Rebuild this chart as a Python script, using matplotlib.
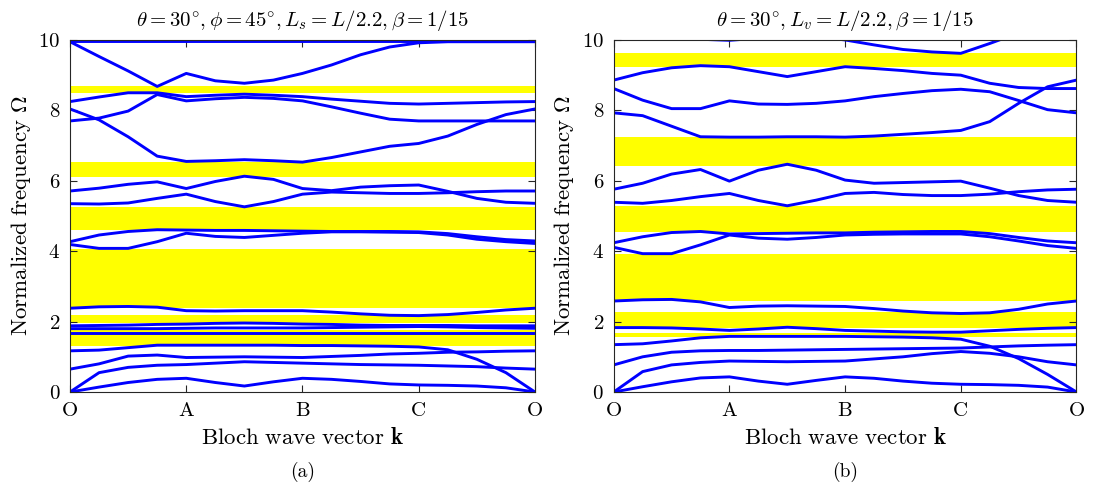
import matplotlib
matplotlib.use("Agg")
import matplotlib.pyplot as plt
import numpy as np

plt.rcParams['font.family'] = 'serif'
plt.rcParams['font.serif'] = ['cmr10', 'DejaVu Serif']
plt.rcParams['mathtext.fontset'] = 'cm'
plt.rcParams['axes.formatter.use_mathtext'] = True

# path positions along O-A-B-C-O
k = [0, 0.25, 0.5, 0.75, 1, 1.25, 1.5, 1.75, 2, 2.25, 2.5, 2.75, 3, 3.25, 3.5, 3.75, 4]
k_labels = ['O', 'A', 'B', 'C', 'O']

# (a) band gaps (lower, upper) and dispersion branches
gaps_a = [(9.97, 10.0), (8.50, 8.69), (6.11, 6.53), (4.60, 5.26),
          (2.40, 4.06), (1.95, 2.19), (1.31, 1.76)]
bands_a = [
    [9.96] * 17,
    [9.95, 9.53, 9.12, 8.68, 9.05, 8.84, 8.77, 8.86, 9.05, 9.29, 9.58, 9.80, 9.92, 9.95, 9.95, 9.95, 9.95],
    [8.25, 8.38, 8.50, 8.50, 8.39, 8.43, 8.46, 8.43, 8.39, 8.32, 8.26, 8.20, 8.18, 8.20, 8.22, 8.24, 8.25],
    [7.70, 7.78, 7.98, 8.45, 8.27, 8.33, 8.37, 8.34, 8.27, 8.10, 7.92, 7.75, 7.70, 7.70, 7.70, 7.70, 7.70],
    [8.04, 7.73, 7.25, 6.70, 6.55, 6.57, 6.60, 6.57, 6.53, 6.66, 6.82, 6.98, 7.06, 7.27, 7.60, 7.88, 8.04],
    [5.71, 5.79, 5.90, 5.97, 5.78, 5.98, 6.13, 6.04, 5.78, 5.72, 5.82, 5.86, 5.88, 5.70, 5.50, 5.39, 5.36],
    [5.35, 5.34, 5.37, 5.50, 5.62, 5.41, 5.26, 5.41, 5.62, 5.68, 5.66, 5.64, 5.64, 5.66, 5.69, 5.71, 5.71],
    [4.27, 4.46, 4.56, 4.61, 4.60, 4.59, 4.59, 4.58, 4.57, 4.56, 4.56, 4.56, 4.55, 4.50, 4.41, 4.33, 4.29],
    [4.19, 4.08, 4.08, 4.27, 4.51, 4.42, 4.39, 4.45, 4.51, 4.55, 4.55, 4.54, 4.53, 4.46, 4.34, 4.27, 4.22],
    [2.38, 2.42, 2.43, 2.41, 2.31, 2.30, 2.31, 2.31, 2.31, 2.27, 2.22, 2.18, 2.17, 2.20, 2.26, 2.33, 2.38],
    [1.88, 1.89, 1.90, 1.92, 1.93, 1.95, 1.96, 1.95, 1.93, 1.92, 1.90, 1.89, 1.89, 1.89, 1.88, 1.88, 1.88],
    [1.80, 1.80, 1.80, 1.80, 1.81, 1.82, 1.82, 1.82, 1.82, 1.83, 1.84, 1.85, 1.86, 1.85, 1.83, 1.82, 1.81],
    [1.68] * 17,
    [1.17, 1.19, 1.26, 1.33, 1.33, 1.33, 1.33, 1.33, 1.32, 1.32, 1.31, 1.30, 1.28, 1.20, 0.93, 0.55, 0.00],
    [0.65, 0.80, 1.02, 1.05, 0.98, 0.99, 1.00, 0.99, 0.98, 1.01, 1.04, 1.08, 1.10, 1.13, 1.14, 1.16, 1.17],
    [0.00, 0.55, 0.70, 0.76, 0.78, 0.82, 0.86, 0.84, 0.82, 0.80, 0.78, 0.77, 0.76, 0.74, 0.72, 0.68, 0.65],
    [0.00, 0.14, 0.27, 0.36, 0.39, 0.27, 0.17, 0.29, 0.39, 0.36, 0.30, 0.23, 0.20, 0.19, 0.17, 0.12, 0.00],
]

# (b) band gaps and dispersion branches
gaps_b = [(9.24, 9.64), (6.43, 7.24), (4.54, 5.28), (2.59, 3.92), (1.83, 2.26), (1.57, 1.69)]
bands_b = [
    [10.5, 10.3, 10.1, 10.02, 9.99, 10.05, 10.2, 10.1, 10.0, 9.86, 9.73, 9.66, 9.62, 9.90, 10.2, 10.4, 10.5],
    [8.86, 9.07, 9.21, 9.27, 9.24, 9.10, 8.96, 9.10, 9.24, 9.19, 9.13, 9.05, 9.00, 8.77, 8.65, 8.62, 8.62],
    [8.62, 8.29, 8.05, 8.05, 8.27, 8.18, 8.17, 8.20, 8.27, 8.39, 8.48, 8.56, 8.60, 8.53, 8.28, 8.02, 7.93],
    [7.93, 7.85, 7.55, 7.25, 7.24, 7.24, 7.25, 7.25, 7.24, 7.27, 7.32, 7.37, 7.43, 7.68, 8.20, 8.67, 8.86],
    [5.76, 5.93, 6.19, 6.32, 5.99, 6.30, 6.47, 6.30, 6.02, 5.93, 5.95, 5.97, 5.99, 5.79, 5.58, 5.44, 5.39],
    [5.39, 5.36, 5.44, 5.55, 5.64, 5.44, 5.29, 5.45, 5.64, 5.67, 5.61, 5.58, 5.58, 5.62, 5.69, 5.74, 5.76],
    [4.24, 4.41, 4.53, 4.56, 4.49, 4.50, 4.51, 4.52, 4.52, 4.54, 4.55, 4.56, 4.56, 4.50, 4.39, 4.29, 4.24],
    [4.11, 3.93, 3.93, 4.18, 4.46, 4.37, 4.34, 4.39, 4.46, 4.48, 4.49, 4.49, 4.49, 4.41, 4.29, 4.16, 4.08],
    [2.585, 2.62, 2.63, 2.56, 2.40, 2.44, 2.45, 2.44, 2.43, 2.37, 2.30, 2.25, 2.23, 2.25, 2.35, 2.50, 2.585],
    [1.83, 1.83, 1.82, 1.79, 1.75, 1.79, 1.84, 1.80, 1.75, 1.73, 1.71, 1.70, 1.70, 1.74, 1.78, 1.81, 1.83],
    [1.345, 1.37, 1.45, 1.54, 1.58, 1.58, 1.58, 1.58, 1.58, 1.57, 1.56, 1.54, 1.50, 1.30, 0.95, 0.50, 0.00],
    [0.77, 1.00, 1.13, 1.17, 1.18, 1.18, 1.19, 1.20, 1.21, 1.22, 1.23, 1.24, 1.25, 1.28, 1.31, 1.33, 1.345],
    [0.00, 0.58, 0.77, 0.84, 0.88, 0.87, 0.86, 0.87, 0.88, 0.94, 1.00, 1.09, 1.15, 1.10, 1.00, 0.86, 0.77],
    [0.00, 0.15, 0.29, 0.40, 0.43, 0.31, 0.22, 0.33, 0.43, 0.39, 0.31, 0.25, 0.22, 0.21, 0.19, 0.14, 0.00],
]

title_a = r'$\theta=30^{\circ},\phi=45^{\circ},L_s=L/2.2,\beta=1/15$'
title_b = r'$\theta=30^{\circ},L_v=L/2.2,\beta=1/15$'
ylab = r'$\mathrm{Normalized\ frequency}\ \Omega$'
xlab = r'$\mathrm{Bloch\ wave\ vector}\ \mathbf{k}$'


def draw_panel(ax, gaps, bands, title):
    for lo, hi in gaps:
        ax.fill_between([0, 4], lo, hi, color=(1, 1, 0), linewidth=0, zorder=1)
    for b in bands:
        ax.plot(k, b, color=(0, 0, 1), linewidth=2.1, zorder=2,
                solid_joinstyle='round')

    ax.set_xlim(0, 4)
    ax.set_ylim(0, 10)
    ax.set_xticks(range(5), labels=k_labels)
    ax.set_yticks([0, 2, 4, 6, 8, 10])
    ax.tick_params(direction='in', top=True, right=True, length=5,
                   width=0.8, color='0.15', labelsize=15, pad=7)
    for s in ax.spines.values():
        s.set_color('0.15')
        s.set_linewidth(0.8)
    ax.set_title(title, fontsize=15, pad=10)
    ax.set_xlabel(xlab, fontsize=16.5, labelpad=5)
    ax.set_ylabel(ylab, fontsize=16.5, labelpad=4)


fig = plt.figure(figsize=(10.94, 4.91), dpi=100)
ax1 = fig.add_axes([0.064, 0.2016, 0.425, 0.717])
ax2 = fig.add_axes([0.561, 0.2016, 0.423, 0.717])

draw_panel(ax1, gaps_a, bands_a, title_a)
draw_panel(ax2, gaps_b, bands_b, title_b)

fig.text(0.2765, 0.038, '(a)', ha='center', va='center', fontsize=14)
fig.text(0.7725, 0.038, '(b)', ha='center', va='center', fontsize=14)

fig.savefig('out.png', dpi=100)
